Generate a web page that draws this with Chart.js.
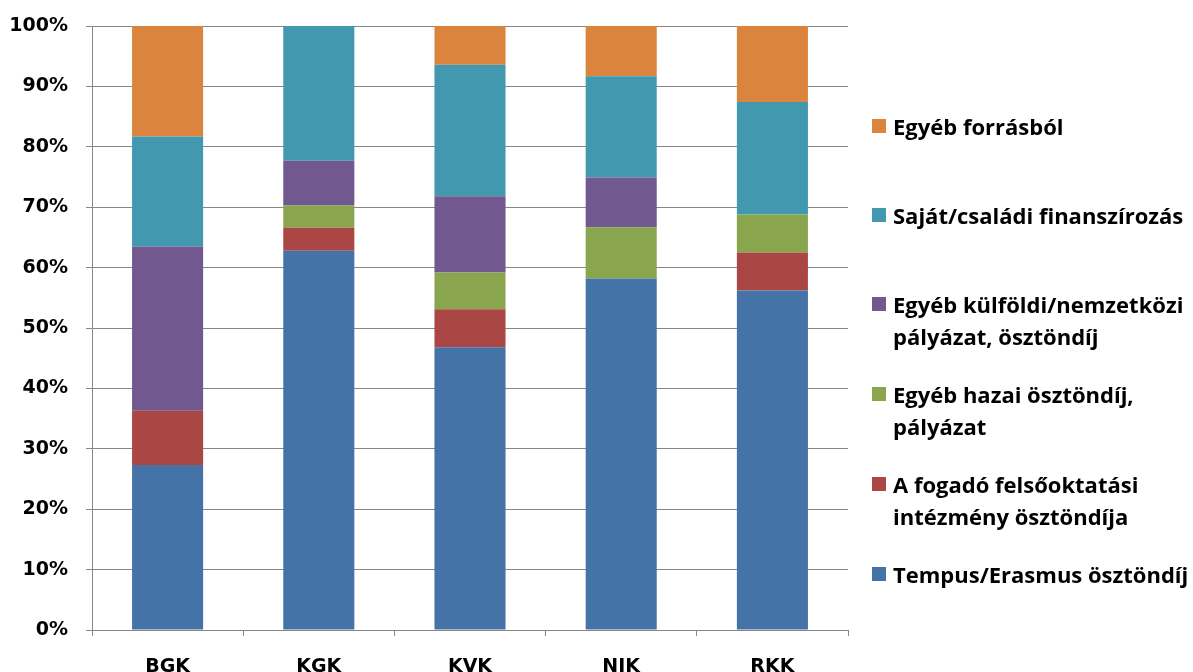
<!DOCTYPE html>
<html>
<head>
<meta charset="utf-8">
<script src="https://cdn.jsdelivr.net/npm/chart.js@4/dist/chart.umd.min.js"></script>
<style>
  body { margin: 0; background: #fff; }
  #wrap { position: relative; width: 1193px; height: 672px; }
  #legend { position: absolute; left: 872px; top: 0; font-family: "Open Sans", sans-serif; font-weight: bold; font-size: 22px; color: #000; }
  .item { position: absolute; left: 0; white-space: nowrap; line-height: 32px; }
  .box { position: absolute; left: 0; top: 9px; width: 14px; height: 14px; }
  .txt { position: absolute; left: 21px; top: 0; }
</style>
</head>
<body>
<div id="wrap">
  <canvas id="canvas" width="1193" height="672"></canvas>
  <div id="legend"></div>
</div>
<script>
var categories = ['BGK', 'KGK', 'KVK', 'NIK', 'RKK'];
var tempus = [27.3, 62.8, 46.8, 58.2, 56.2];
var fogado = [9.0, 3.8, 6.3, 0, 6.3];
var hazai = [0, 3.7, 6.1, 8.5, 6.3];
var kulfoldi = [27.2, 7.4, 12.6, 8.2, 0];
var sajat = [18.2, 22.3, 21.8, 16.8, 18.6];
var egyeb = [18.3, 0, 6.4, 8.3, 12.6];
var yTicks = [0, 10, 20, 30, 40, 50, 60, 70, 80, 90, 100];

function init() {
  var datasets = [
    { label: ['Tempus/Erasmus ösztöndíj'], data: tempus, backgroundColor: '#4572A7' },
    { label: ['A fogadó felsőoktatási', 'intézmény ösztöndíja'], data: fogado, backgroundColor: '#AA4643' },
    { label: ['Egyéb hazai ösztöndíj,', 'pályázat'], data: hazai, backgroundColor: '#89A54E' },
    { label: ['Egyéb külföldi/nemzetközi', 'pályázat, ösztöndíj'], data: kulfoldi, backgroundColor: '#71588F' },
    { label: ['Saját/családi finanszírozás'], data: sajat, backgroundColor: '#4198AF' },
    { label: ['Egyéb forrásból'], data: egyeb, backgroundColor: '#DB843D' }
  ];
  datasets.forEach(function(d) {
    d.barPercentage = 0.47;
    d.categoryPercentage = 1;
    d.borderWidth = 0;
  });

  var tickFont = { family: 'DejaVu Sans', weight: 'bold', size: 19 };
  var ctx = document.getElementById('canvas').getContext('2d');
  window.myBar = new Chart(ctx, {
    type: 'bar',
    data: { labels: categories, datasets: datasets },
    options: {
      responsive: false,
      animation: false,
      layout: { padding: { left: 0, right: 345, top: 26, bottom: 0 } },
      plugins: { legend: { display: false }, tooltip: { enabled: false } },
      scales: {
        x: {
          stacked: true,
          afterFit: function(s) { s.height = 42; s.paddingLeft = 0; s.paddingRight = 0; },
          grid: { offset: true, drawOnChartArea: false, drawTicks: true, tickLength: 6, color: '#878787' },
          border: { color: '#878787' },
          ticks: { color: '#000', font: tickFont, padding: 20 }
        },
        y: {
          stacked: true,
          min: 0,
          max: 100,
          afterFit: function(s) { s.width = 92; s.paddingTop = 0; s.paddingBottom = 0; },
          afterBuildTicks: function(s) { s.ticks = yTicks.map(function(v) { return { value: v }; }); },
          grid: { color: '#878787', tickLength: 6 },
          border: { color: '#878787' },
          ticks: { color: '#000', font: tickFont, padding: 18, callback: function(v) { return v + '%'; } }
        }
      }
    }
  });

  // legend on the right, reversed like the original
  var firstLine = [574, 484, 394, 304, 215, 126];
  var legend = document.getElementById('legend');
  datasets.forEach(function(d, i) {
    var item = document.createElement('div');
    item.className = 'item';
    item.style.top = (firstLine[i] - 16) + 'px';
    var box = document.createElement('div');
    box.className = 'box';
    box.style.background = d.backgroundColor;
    var txt = document.createElement('div');
    txt.className = 'txt';
    txt.innerHTML = d.label.join('<br>');
    item.appendChild(box);
    item.appendChild(txt);
    legend.appendChild(item);
  });
}

window.onload = init;
</script>
</body>
</html>
